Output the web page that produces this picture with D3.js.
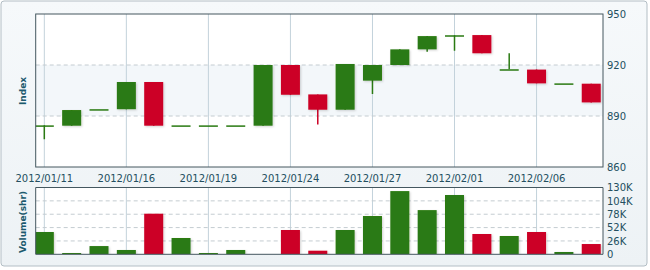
<!DOCTYPE html>
<html>
<head>
<meta charset="utf-8">
<script src="https://cdn.jsdelivr.net/npm/d3@7"></script>
<style>
  body { margin: 0; background: #fff; }
  svg { display: block; font-family: "DejaVu Sans", Verdana, sans-serif; }
</style>
</head>
<body>
<div id="chart"></div>
<script>
// daily index values
var dates = ["2012/01/11","2012/01/12","2012/01/13","2012/01/16","2012/01/17","2012/01/18","2012/01/19",
             "2012/01/20","2012/01/23","2012/01/24","2012/01/25","2012/01/26","2012/01/27","2012/01/30",
             "2012/01/31","2012/02/01","2012/02/02","2012/02/03","2012/02/06","2012/02/07","2012/02/08"];
var opens  = [884.5, 884.3, 894.0, 894.0, 910.0, 884.5, 884.5, 884.5, 884.3, 920.0, 902.7,
              893.7, 910.8, 920.0, 929.2, 937.5, 937.6, 917.5, 917.3, 909.2, 909.0];
var closes = [884.5, 893.5, 894.0, 910.0, 884.3, 884.5, 884.5, 884.5, 920.0, 902.5, 893.7,
              920.6, 920.0, 929.2, 937.0, 937.5, 926.9, 917.5, 909.2, 909.2, 898.0];
var highs  = [884.5, 893.5, 894.0, 910.0, 910.0, 884.5, 884.5, 884.5, 920.0, 920.0, 902.7,
              920.6, 920.0, 929.2, 937.0, 937.5, 937.6, 926.9, 917.3, 909.2, 909.0];
var lows   = [876.3, 884.3, 894.0, 894.0, 884.3, 884.5, 884.5, 884.5, 884.3, 902.5, 885.0,
              893.7, 903.0, 920.0, 927.8, 928.4, 926.9, 917.5, 909.2, 909.2, 898.0];
var volumes = [43.4, 2.5, 16, 8.4, 79, 31.7, 2.5, 8.4, 0, 47.3, 7, 47.3, 74.5, 123, 86, 115.4,
               39.5, 35.6, 43.4, 4.5, 20]; // thousands of shares
var dateTicks = [0, 3, 6, 9, 12, 15, 18];
var indexTicks = [860, 890, 920, 950];
var volTicks = [0, 26, 52, 78, 104, 130];

var W = 650, H = 270;
var left = 35.7, right = 603;
var green = "#2a7a12", red = "#cc0025", ink = "#234f60";

var svg = d3.select("#chart").append("svg").attr("width", W).attr("height", H);
var defs = svg.append("defs");

var grad = defs.append("linearGradient").attr("id", "bg").attr("x1", 0).attr("y1", 0).attr("x2", 0).attr("y2", 1);
grad.append("stop").attr("offset", "0%").attr("stop-color", "#f6f9fb");
grad.append("stop").attr("offset", "100%").attr("stop-color", "#edf2f5");

var shadow = defs.append("filter").attr("id", "shadow").attr("x", "-20%").attr("y", "-20%").attr("width", "150%").attr("height", "150%");
shadow.append("feDropShadow").attr("dx", 1).attr("dy", 1).attr("stdDeviation", 1)
  .attr("flood-color", "#000").attr("flood-opacity", 0.18);

// outer frame
svg.append("rect").attr("x", 1).attr("y", 1).attr("width", W - 4).attr("height", 265)
  .attr("rx", 3).attr("fill", "url(#bg)").attr("stroke", "#b3bec5");

var x = d3.scaleLinear().domain([-0.315, 20.43]).range([left, right]);
var y = d3.scaleLinear().domain([860, 950]).range([167, 14]);
var yv = d3.scaleLinear().domain([0, 130]).range([254.3, 187.5]);
var cw = 19;

function up(i) { return closes[i] >= opens[i]; }

// ---- index panel
var main = svg.append("g");
main.append("rect").attr("x", left).attr("y", y(950)).attr("width", right - left).attr("height", y(860) - y(950)).attr("fill", "#fff");
main.append("rect").attr("x", left).attr("y", y(920)).attr("width", right - left).attr("height", y(890) - y(920)).attr("fill", "#f3f7fa");

main.selectAll(".vg").data(dateTicks).enter().append("line")
  .attr("x1", function(d) { return x(d); }).attr("x2", function(d) { return x(d); })
  .attr("y1", y(950)).attr("y2", y(860))
  .attr("stroke", "#c3d2db").attr("stroke-width", 1);
main.selectAll(".hg").data([890, 920]).enter().append("line")
  .attr("x1", left).attr("x2", right)
  .attr("y1", function(d) { return y(d); }).attr("y2", function(d) { return y(d); })
  .attr("stroke", "#c4ccd1").attr("stroke-dasharray", "4,3");

defs.append("clipPath").attr("id", "clipMain").append("rect")
  .attr("x", left).attr("y", y(950)).attr("width", right - left).attr("height", y(860) - y(950));

var candles = main.append("g").attr("clip-path", "url(#clipMain)")
  .selectAll("g").data(d3.range(dates.length)).enter().append("g");

candles.append("line")
  .attr("x1", function(i) { return x(i); }).attr("x2", function(i) { return x(i); })
  .attr("y1", function(i) { return y(highs[i]); }).attr("y2", function(i) { return y(lows[i]); })
  .attr("stroke", function(i) { return up(i) ? green : red; }).attr("stroke-width", 1.5);

candles.append("rect")
  .attr("x", function(i) { return x(i) - cw / 2; })
  .attr("y", function(i) { return y(Math.max(opens[i], closes[i])); })
  .attr("width", cw)
  .attr("height", function(i) { return Math.max(1.5, Math.abs(y(opens[i]) - y(closes[i]))); })
  .attr("fill", function(i) { return up(i) ? green : red; })
  .attr("filter", function(i) { return Math.abs(opens[i] - closes[i]) > 0.3 ? "url(#shadow)" : null; });

main.append("rect").attr("x", left).attr("y", y(950)).attr("width", right - left).attr("height", y(860) - y(950))
  .attr("fill", "none").attr("stroke", "#44575f");

var yAxis = main.append("g").attr("transform", "translate(" + right + ",0)")
  .call(d3.axisRight(y).tickValues(indexTicks).tickSize(0).tickPadding(4));
yAxis.select(".domain").remove();
yAxis.selectAll("text").attr("fill", ink).style("font-size", "10px").style("font-family", "DejaVu Sans");

main.append("text").attr("transform", "translate(26,91) rotate(-90)")
  .attr("text-anchor", "middle").attr("fill", "#1d5a6e")
  .style("font-size", "9px").style("font-weight", "bold").text("Index");

// date labels between the panels
svg.selectAll(".dl").data(dateTicks).enter().append("text")
  .attr("x", function(d) { return x(d); }).attr("y", 182)
  .attr("text-anchor", "middle").attr("fill", ink).style("font-size", "10px")
  .text(function(d) { return dates[d]; });

// ---- volume panel
var vol = svg.append("g");
vol.append("rect").attr("x", left).attr("y", yv(130)).attr("width", right - left).attr("height", yv(0) - yv(130)).attr("fill", "#fff");
vol.selectAll(".vg").data(dateTicks).enter().append("line")
  .attr("x1", function(d) { return x(d); }).attr("x2", function(d) { return x(d); })
  .attr("y1", yv(130)).attr("y2", yv(0))
  .attr("stroke", "#c3d2db");
vol.selectAll(".hg").data([26, 52, 78, 104]).enter().append("line")
  .attr("x1", left).attr("x2", right)
  .attr("y1", function(d) { return yv(d); }).attr("y2", function(d) { return yv(d); })
  .attr("stroke", "#c4ccd1").attr("stroke-dasharray", "4,3");

defs.append("clipPath").attr("id", "clipVol").append("rect")
  .attr("x", left).attr("y", yv(130)).attr("width", right - left).attr("height", yv(0) - yv(130));

vol.append("g").attr("clip-path", "url(#clipVol)")
  .selectAll("rect").data(d3.range(dates.length)).enter().append("rect")
  .attr("x", function(i) { return x(i) - cw / 2; })
  .attr("y", function(i) { return yv(volumes[i]); })
  .attr("width", cw)
  .attr("height", function(i) { return yv(0) - yv(volumes[i]); })
  .attr("fill", function(i) { return up(i) ? green : red; })
  .attr("filter", "url(#shadow)");

vol.append("line").attr("x1", left).attr("x2", right).attr("y1", yv(0)).attr("y2", yv(0)).attr("stroke", "#44575f");
vol.append("line").attr("x1", left).attr("x2", left).attr("y1", yv(130)).attr("y2", yv(0)).attr("stroke", "#44575f");
vol.append("line").attr("x1", right).attr("x2", right).attr("y1", yv(130)).attr("y2", yv(0)).attr("stroke", "#44575f");
vol.append("line").attr("x1", left).attr("x2", right).attr("y1", yv(130)).attr("y2", yv(130)).attr("stroke", "#44575f");

var vAxis = vol.append("g").attr("transform", "translate(" + right + ",0)")
  .call(d3.axisRight(yv).tickValues(volTicks).tickSize(0).tickPadding(4)
    .tickFormat(function(d) { return d === 0 ? "0" : d + "K"; }));
vAxis.select(".domain").remove();
vAxis.selectAll("text").attr("fill", ink).style("font-size", "10px").style("font-family", "DejaVu Sans");

vol.append("text").attr("transform", "translate(26,222) rotate(-90)")
  .attr("text-anchor", "middle").attr("fill", "#1d5a6e")
  .style("font-size", "9px").style("font-weight", "bold").text("Volume(shr)");
</script>
</body>
</html>
